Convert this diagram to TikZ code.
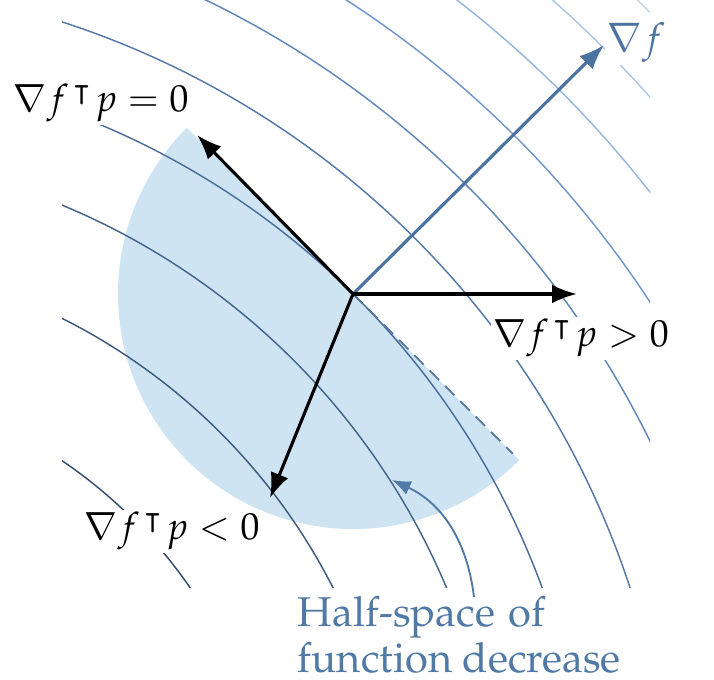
\documentclass[tikz,border=0pt]{standalone}
\usepackage[T1]{fontenc}
\usepackage{amssymb}
\usepackage{mathpazo}
\usetikzlibrary{arrows.meta,calc}
\definecolor{shadeblue}{RGB}{206,228,242}
\definecolor{gradblue}{RGB}{76,114,162}
\definecolor{txtblue}{RGB}{80,121,165}
\definecolor{dashc}{RGB}{84,118,160}
\definecolor{cA}{RGB}{52,78,108}
\definecolor{cB}{RGB}{62,90,125}
\definecolor{cC}{RGB}{70,100,140}
\definecolor{cD}{RGB}{76,110,155}
\definecolor{cE}{RGB}{84,120,168}
\definecolor{cF}{RGB}{95,135,185}
\definecolor{cG}{RGB}{112,150,205}
\definecolor{cH}{RGB}{150,182,222}
\definecolor{cI}{RGB}{175,198,230}
\definecolor{cJ}{RGB}{200,214,236}
\newcommand{\gtp}{\nabla f^{\hspace{1.2pt}\intercal}\hspace{0.8pt}p}
\tikzset{
  contour/.style={line width=0.35pt},
  vec/.style={line width=0.75pt, -{Latex[length=6pt,width=4.5pt]}},
  lab/.style={fill=white, inner sep=0.6pt, anchor=base west, font=\fontsize{9.05}{11}\selectfont},
}
\begin{document}
\begin{tikzpicture}[x=0.24pt, y=0.24pt]
\useasboundingbox (0,0) rectangle (714,680);
\coordinate (O) at (353,386);
\coordinate (C) at (-211,-184);
% half-space shading
\fill[shadeblue] (O) -- ++(135:235) arc[start angle=135, end angle=315, radius=235] -- cycle;
% contours
\begin{scope}
\clip (62,92) rectangle (650,680);
\foreach \r/\c in {487/cA, 610/cB, 713/cC, 802/cD, 885/cE, 959/cF, 1028/cG, 1092/cH, 1153/cI, 1211/cJ}
  \draw[contour, \c] (C) circle[radius=\r];
\end{scope}
% dashed tangent
\coordinate (d) at ($(O)+(315:226)$);
\draw[dashc, line width=0.42pt, dash pattern=on 3.2pt off 2pt] (O) -- (d);
% vectors
\coordinate (g) at (604,635);
\coordinate (pr) at (577,386);
\coordinate (pu) at (197,545);
\coordinate (pd) at (270,182);
\draw[vec, gradblue] (O) -- (g);
\draw[vec] (O) -- (pr);
\draw[vec] (O) -- (pu);
\draw[vec] (O) -- (pd);
% labels
\node[lab] (l0) at (10,568) {$\gtp = 0$};
\node[lab] (lp) at (490,333) {$\gtp > 0$};
\node[lab] (ln) at (81,140) {$\gtp < 0$};
\node[lab, text=gradblue, font=\fontsize{9.5}{11}\selectfont] (lg) at (604,628) {$\nabla f$};
% half-space text and pointer
\node[text=txtblue, align=left, anchor=north west, inner sep=0pt, font=\fontsize{10}{11}\selectfont] (hs) at (297,84) {Half-space\hspace{0.08em} of\\function decrease};
\coordinate (ps) at (474,83);
\coordinate (pt) at (392,200);
\draw[txtblue, line width=0.45pt, -{Latex[length=4.5pt,width=3.5pt]}] (ps) to[out=97, in=-25] (pt);
\end{tikzpicture}
\end{document}
